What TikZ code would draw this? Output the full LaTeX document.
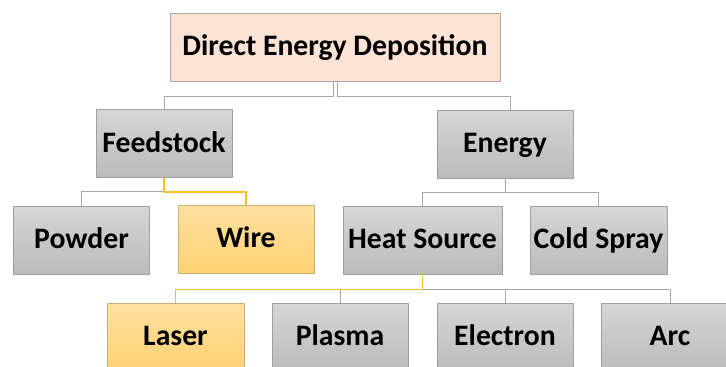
\documentclass[tikz,border=0pt]{standalone}
\usepackage{fontspec}
\setmainfont{Carlito}
\usepackage{tikz}
\usetikzlibrary{positioning, calc}
\definecolor{boxtop}{RGB}{214,214,214}
\definecolor{boxbottom}{RGB}{186,186,186}
\definecolor{boxline}{RGB}{160,160,160}
\definecolor{goldtop}{RGB}{255,224,160}
\definecolor{goldbottom}{RGB}{255,210,115}
\definecolor{goldline}{RGB}{205,175,115}
\definecolor{rootfill}{RGB}{250,226,212}
\definecolor{rootline}{RGB}{175,165,160}
\definecolor{linkgray}{RGB}{166,166,166}
\definecolor{linkgold}{RGB}{250,192,40}

\begin{document}
\begin{tikzpicture}[
        x=1pt, y=-1pt,
        box/.style={rectangle, draw=boxline, line width=0.8pt, top color=boxtop, bottom color=boxbottom,
            minimum width=136pt, minimum height=68pt, inner sep=0pt,
            text height=21pt, text depth=4pt,
            font=\fontsize{29.7}{34}\selectfont\bfseries},
        goldbox/.style={box, draw=goldline, top color=goldtop, bottom color=goldbottom},
        rootbox/.style={box, draw=rootline, fill=rootfill, top color=rootfill, bottom color=rootfill, minimum width=330pt},
        link/.style={draw=linkgray, line width=1pt},
        goldlink/.style={draw=linkgold, line width=1.2pt}
        ]
        \useasboundingbox (0,0) rectangle (726,367);

        % Root
        \node[rootbox] (ded) at (335,47) {Direct Energy Deposition};

        % Level 2
        \node[box] (feed) at (164,143.5) {Feedstock};
        \node[box] (energy) at (505,144) {Energy};

        % Level 3
        \node[box] (powder) at (81.5,240) {Powder};
        \node[goldbox] (wire) at (246,239) {Wire};
        \node[box, minimum width=159pt] (heat) at (422.5,240) {Heat Source};
        \node[box, minimum width=137pt] (cold) at (598.5,240) {Cold Spray};

        % Level 4
        \node[goldbox, minimum width=137pt] (laser) at (175.5,337) {Laser};
        \node[box] (plasma) at (340,337) {Plasma};
        \node[box] (electron) at (505,337) {Electron};
        \node[box, minimum width=137pt] (arc) at (670,337) {Arc};

        % Connections: root to level 2
        \draw[link] ([xshift=-2pt]ded.south) -- ++(0,15) -| (feed.north);
        \draw[link] ([xshift=2pt]ded.south) -- ++(0,15) -| ([xshift=5pt]energy.north);

        % Connections: level 2 to level 3
        \draw[link] (feed.south) -- ++(0,14) -| (powder.north);
        \foreach \j in {heat,cold} {
            \draw[link] (energy.south) -- ++(0,14) -| (\j.north);
        }
        \draw[goldlink] (feed.south) -- ++(0,14) -| (wire.north);

        % Connections: heat source to level 4
        \foreach \j in {plasma,electron,arc} {
            \draw[link] (heat.south) -- ++(0,15) -| (\j.north);
        }
        \draw[goldlink] (heat.south) -- ++(0,15) -| (laser.north);

    \end{tikzpicture}
\end{document}
